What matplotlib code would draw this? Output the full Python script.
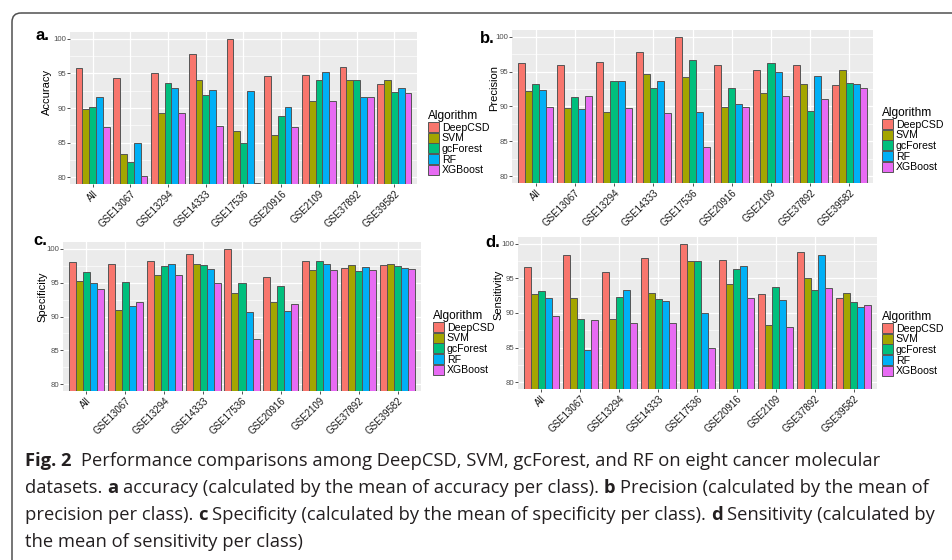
import matplotlib
matplotlib.use("Agg")
import matplotlib.pyplot as plt
from matplotlib.patches import FancyBboxPatch
import numpy as np

W, H = 953, 560

datasets = ["All", "GSE13067", "GSE13294", "GSE14333", "GSE17536",
            "GSE20916", "GSE2109", "GSE37892", "GSE39582"]
algorithms = ["DeepCSD", "SVM", "gcForest", "RF", "XGBoost"]
colors = ["#F8766D", "#A3A500", "#00BF7D", "#00B0F6", "#E76BF3"]

# a. Accuracy
acc_deepcsd = [95.8, 94.3, 95.0, 97.8, 100.0, 94.7, 94.8, 95.9, 93.5]
acc_svm = [89.8, 83.3, 89.3, 94.1, 86.7, 86.1, 91.0, 94.1, 94.1]
acc_gcforest = [90.2, 82.2, 93.6, 91.9, 85.0, 88.8, 94.0, 94.1, 92.3]
acc_rf = [91.6, 85.0, 92.9, 92.6, 92.5, 90.2, 95.2, 91.6, 92.9]
acc_xgboost = [87.3, 80.2, 89.3, 87.4, 79.2, 87.3, 91.0, 91.6, 92.1]

# b. Precision
pre_deepcsd = [96.3, 95.9, 96.4, 97.9, 100.0, 96.0, 95.3, 96.0, 93.1]
pre_svm = [92.2, 89.8, 89.2, 94.7, 94.2, 89.9, 91.9, 93.2, 95.3]
pre_gcforest = [93.2, 91.4, 93.6, 92.6, 96.7, 92.7, 96.3, 89.4, 93.4]
pre_rf = [92.4, 89.7, 93.6, 93.6, 89.2, 90.3, 94.9, 94.4, 93.2]
pre_xgboost = [89.9, 91.5, 89.8, 89.0, 84.2, 89.9, 91.5, 91.1, 92.6]

# c. Specificity
spe_deepcsd = [98.0, 97.8, 98.2, 99.3, 100.0, 95.9, 98.2, 97.1, 97.6]
spe_svm = [95.3, 91.0, 96.1, 97.7, 93.4, 92.2, 96.8, 97.6, 97.7]
spe_gcforest = [96.5, 95.1, 97.4, 97.6, 95.0, 94.5, 98.2, 96.7, 97.4]
spe_rf = [95.0, 91.6, 97.7, 97.0, 90.6, 90.8, 97.8, 97.3, 97.1]
spe_xgboost = [94.1, 92.1, 96.1, 94.9, 86.7, 91.9, 96.8, 96.9, 97.0]

# d. Sensitivity
sen_deepcsd = [96.7, 98.4, 96.0, 97.9, 100.0, 97.7, 92.7, 98.9, 92.2]
sen_svm = [92.8, 92.1, 89.1, 92.9, 97.5, 94.2, 88.3, 95.0, 92.9]
sen_gcforest = [93.2, 89.2, 92.3, 92.0, 97.5, 96.3, 93.7, 93.4, 91.6]
sen_rf = [92.2, 84.7, 93.3, 91.8, 90.0, 96.8, 91.9, 98.4, 90.9]
sen_xgboost = [89.5, 89.0, 88.6, 88.5, 85.0, 92.1, 88.0, 93.6, 91.1]

plt.rcParams["font.family"] = ["Liberation Sans", "DejaVu Sans"]

fig = plt.figure(figsize=(W / 100, H / 100), dpi=100)
bg = fig.add_axes([0, 0, 1, 1])
bg.set_xlim(0, W)
bg.set_ylim(H, 0)
bg.axis("off")
bg.add_patch(FancyBboxPatch((12, 13), 1200, 800,
                            boxstyle="round,pad=0,rounding_size=9",
                            fc="none", ec="#505050", lw=1.1))


def panel(rect, series, ylabel, tag, tag_xy, ylab_xy, leg_xy):
    l, t, r, b = rect
    ax = fig.add_axes([l / W, 1 - b / H, (r - l) / W, (b - t) / H])
    ax.set_facecolor("#EBEBEB")
    x = np.arange(1, len(datasets) + 1)
    w = 0.18
    for i, (vals, c, name) in enumerate(zip(series, colors, algorithms)):
        ax.bar(x + (i - 2) * w, vals, width=w, color=c, edgecolor="#555555",
               linewidth=0.7, label=name, zorder=3)
    ax.set_xlim(0.4, len(datasets) + 0.6)
    ax.set_ylim(79, 101)
    ax.set_yticks([80, 85, 90, 95, 100])
    ax.set_yticks([82.5, 87.5, 92.5, 97.5], minor=True)
    ax.set_xticks(x)
    ax.set_xticklabels(datasets, rotation=45, ha="right", va="top",
                       rotation_mode="anchor", fontsize=7, color="#1a1a1a")
    ax.grid(which="major", color="white", lw=0.9)
    ax.grid(which="minor", axis="y", color="white", lw=0.45)
    ax.set_axisbelow(True)
    for s in ax.spines.values():
        s.set_visible(False)
    ax.tick_params(axis="both", which="major", length=2.2, width=0.6,
                   color="#333333", pad=1)
    ax.tick_params(axis="y", labelsize=5.6, labelcolor="#4D4D4D", pad=0.6)
    ax.tick_params(which="minor", length=0)
    ax.set_ylabel(ylabel, fontsize=8.0, va="center")
    ax.yaxis.set_label_coords((ylab_xy[0] - l) / (r - l), (b - ylab_xy[1]) / (b - t))
    ax.legend(loc="upper left", bbox_to_anchor=(leg_xy[0] / W, 1 - leg_xy[1] / H),
              bbox_transform=fig.transFigure, frameon=False, fontsize=7.6,
              title="Algorithm", title_fontsize=8.6, alignment="left",
              borderpad=0, borderaxespad=0, handlelength=1.05,
              handleheight=1.1, labelspacing=0, handletextpad=0.25)
    bg.text(tag_xy[0], tag_xy[1], tag, fontsize=12, fontweight="bold",
            ha="left", va="baseline")
    return ax


panel((70, 32, 417, 184),
      [acc_deepcsd, acc_svm, acc_gcforest, acc_rf, acc_xgboost],
      "Accuracy", "a.", (36, 40), (47, 92), (428, 110))
panel((512, 30, 873, 183),
      [pre_deepcsd, pre_svm, pre_gcforest, pre_rf, pre_xgboost],
      "Precision", "b.", (480, 43), (494, 88), (882, 107))
panel((63, 242, 421, 391),
      [spe_deepcsd, spe_svm, spe_gcforest, spe_rf, spe_xgboost],
      "Specificity", "c.", (33, 245), (42, 297), (433, 310))
panel((518, 237, 877, 389),
      [sen_deepcsd, sen_svm, sen_gcforest, sen_rf, sen_xgboost],
      "Sensitivity", "d.", (485, 247), (498, 295), (882, 311))

# caption
cap_font = ["Open Sans", "DejaVu Sans"]
cap_color = "#231f20"
caption_lines = [
    [("Fig. 2", True), ("", False), ("Performance comparisons among DeepCSD, SVM, gcForest, and RF on eight cancer molecular", False)],
    [("datasets.", False), ("a", True), ("accuracy (calculated by the mean of accuracy per class).", False), ("b", True), ("Precision (calculated by the mean of", False)],
    [("precision per class).", False), ("c", True), ("Specificity (calculated by the mean of specificity per class).", False), ("d", True), ("Sensitivity (calculated by", False)],
    [("the mean of sensitivity per class)", False)],
]
renderer = fig.canvas.get_renderer()


def text_w(s, size, bold):
    if s == "":
        return 0.0
    t = bg.text(0, 0, s, fontsize=size, family=cap_font,
                fontweight="bold" if bold else "normal")
    wpx = t.get_window_extent(renderer).width
    t.remove()
    return wpx


def line_w(segs, size):
    sp = text_w("a a", size, False) - text_w("aa", size, False)
    return sum(text_w(s, size, b) for s, b in segs) + sp * (len(segs) - 1)


base = 10.0
target = 910.0
size = base * target / line_w(caption_lines[2], base)
space = text_w("a a", size, False) - text_w("aa", size, False)
baselines = [466, 493, 520, 547]
for segs, yb in zip(caption_lines, baselines):
    xc = 25.0
    for s, b in segs:
        if s:
            bg.text(xc, yb, s, fontsize=size, family=cap_font, color=cap_color,
                    fontweight="bold" if b else "normal", ha="left", va="baseline")
        xc += text_w(s, size, b) + space

fig.savefig("out.png", dpi=100)
